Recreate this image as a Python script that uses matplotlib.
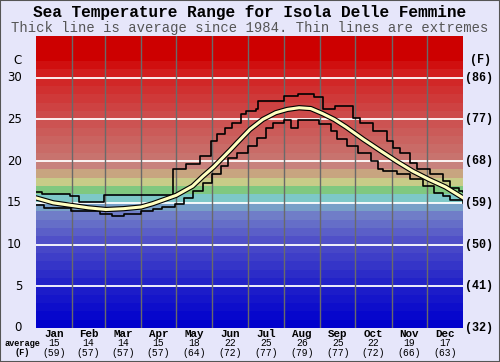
import numpy as np
import matplotlib
matplotlib.use("Agg")
import matplotlib.pyplot as plt
import matplotlib.patheffects as pe
from matplotlib.patches import Rectangle

# --- data ---
months = ["Jan", "Feb", "Mar", "Apr", "May", "Jun", "Jul", "Aug", "Sep", "Oct", "Nov", "Dec"]
month_start = [0, 31, 59, 90, 120, 151, 181, 212, 243, 273, 304, 334, 365]
month_avg_c = [15, 14, 14, 15, 18, 22, 25, 26, 25, 22, 19, 17]
month_avg_f = [59, 57, 57, 57, 64, 72, 77, 79, 77, 72, 66, 63]

# average line (day of year, deg C)
avg_day = [0, 15, 30, 45, 60, 75, 90, 100, 110, 120, 134, 143, 152, 166, 172, 183,
           194, 205, 215, 225, 235, 245, 255, 265, 280, 295, 308, 322, 336, 350, 365]
avg_temp = [15.6, 15.0, 14.7, 14.4, 14.2, 14.3, 14.5, 14.9, 15.4, 15.9, 17.0, 18.2, 19.3, 21.3, 22.2, 23.8,
            25.0, 25.8, 26.2, 26.4, 26.3, 25.7, 25.0, 24.1, 22.6, 21.2, 20.0, 18.8, 17.8, 16.9, 15.6]

# maximum (thin, stepped)
max_day = [0, 5, 29, 37, 58, 117, 128, 140, 150, 155, 162, 168, 175, 180, 188, 190,
           212, 224, 238, 245, 256, 271, 277, 288, 300, 305, 311, 320, 326, 337, 348, 354, 362, 365]
max_temp = [16.3, 16.0, 15.8, 15.1, 15.9, 19.1, 19.6, 20.6, 22.4, 23.3, 24.0, 24.6, 25.7, 26.0, 26.3, 27.2,
            27.8, 28.1, 27.7, 26.3, 26.6, 25.2, 24.6, 23.6, 22.4, 21.6, 21.0, 19.8, 19.1, 18.5, 17.6, 16.8, 16.4, 16.3]

# minimum (thin, stepped)
min_day = [0, 7, 30, 55, 65, 75, 90, 100, 108, 119, 127, 134, 143, 151, 158, 164, 172, 181,
           189, 197, 203, 212, 218, 224, 242, 252, 257, 266, 275, 286, 292, 297, 309, 320, 331, 340, 348, 354, 365]
min_temp = [14.8, 14.4, 14.0, 13.7, 13.45, 13.7, 14.0, 14.3, 14.5, 14.9, 15.6, 16.4, 17.4, 18.5, 19.4, 20.4, 21.0, 21.8,
            22.8, 24.0, 24.6, 24.9, 24.0, 24.9, 24.5, 23.6, 22.7, 21.8, 21.0, 20.0, 19.1, 18.85, 18.5, 17.9, 17.0, 16.2, 15.8, 15.3, 15.0]

c_ticks = [0, 5, 10, 15, 20, 25, 30]
f_ticks = ["(32)", "(41)", "(50)", "(59)", "(68)", "(77)", "(86)"]

# background colour bands, one per degree
band_anchor_t = [0, 5, 10, 13, 14, 15, 16, 17, 18, 19, 20, 25, 30, 32, 35]
band_anchor_rgb = [(0, 0, 205), (35, 35, 200), (80, 80, 200), (112, 125, 200), (120, 160, 200),
                   (125, 200, 200), (128, 200, 128), (200, 204, 136), (200, 165, 128), (200, 130, 125),
                   (200, 115, 110), (205, 75, 75), (210, 30, 30), (205, 0, 0), (205, 0, 0)]

mono = "Liberation Mono"
bg = "#E6E6FA"

fig = plt.figure(figsize=(5, 3.62), dpi=100, facecolor=bg)
ax = fig.add_axes([0.0714, 0.094, 0.8546, 0.8066])
ax.set_xlim(0, 365)
ax.set_ylim(0, 35)

anchors = np.array(band_anchor_rgb) / 255.0
for k in range(35):
    rgb = [np.interp(k, band_anchor_t, anchors[:, i]) for i in range(3)]
    ax.axhspan(k, k + 1, color=rgb, lw=0, zorder=0)

for t in c_ticks[1:]:
    ax.axhline(t, color="white", lw=1.3, zorder=1)
for d in month_start[1:-1]:
    ax.axvline(d, color="#6a6a6a", lw=1.0, zorder=1)

ax.plot(max_day, max_temp, drawstyle="steps-post", color="black", lw=1.2, zorder=3)
ax.plot(min_day, min_temp, drawstyle="steps-post", color="black", lw=1.2, zorder=3)
ax.plot(avg_day, avg_temp, color="#FFFFC0", lw=2.2, zorder=4,
        path_effects=[pe.Stroke(linewidth=3.8, foreground="black"), pe.Normal()])

for s in ax.spines.values():
    s.set_visible(False)
ax.set_xticks([])
ax.set_yticks([])

# axis labels
ytr = ax.get_yaxis_transform()
for t, f in zip(c_ticks, f_ticks):
    ax.text(-0.032, t, str(t), transform=ytr, ha="right", va="center",
            fontsize=8.5, color="black", family="DejaVu Sans")
    ax.text(1.005, t, f, transform=ytr, ha="left", va="center",
            fontsize=8.5, fontweight="bold", family=mono)
ax.text(-0.032, 32.1, "C", transform=ytr, ha="right", va="center", fontsize=8.5, family="DejaVu Sans")
ax.text(1.04, 32.1, "(F)", transform=ytr, ha="center", va="center",
        fontsize=8.5, fontweight="bold", family=mono)

# bottom rows: month name, average C, average F
xtr = ax.get_xaxis_transform()
for i, m in enumerate(months):
    mid = (month_start[i] + month_start[i + 1]) / 2
    ax.text(mid, -0.022, m, transform=xtr, ha="center", va="center",
            fontsize=7.8, fontweight="bold", family=mono)
    ax.text(mid, -0.053, str(month_avg_c[i]), transform=xtr, ha="center", va="center",
            fontsize=7, family=mono)
    ax.text(mid, -0.085, "(%d)" % month_avg_f[i], transform=xtr, ha="center", va="center",
            fontsize=7, family=mono)
fig.text(0.044, 1 - 343.5 / 362, "average", ha="center", va="center", fontsize=6.2, fontweight="bold", family=mono)
fig.text(0.044, 1 - 352.5 / 362, "(F)", ha="center", va="center", fontsize=6.2, fontweight="bold", family=mono)

fig.text(0.5, 0.965, "Sea Temperature Range for Isola Delle Femmine", ha="center", va="center",
         fontsize=11.6, fontweight="bold", family=mono)
fig.text(0.5, 0.924, "Thick line is average since 1984. Thin lines are extremes", ha="center",
         va="center", fontsize=10, color="#555555", family=mono)

fig.patches.append(Rectangle((0, 0), 1, 1, transform=fig.transFigure, fill=False,
                             ec="#555555", lw=1.5))

plt.savefig("out.png", dpi=100, facecolor=bg)
